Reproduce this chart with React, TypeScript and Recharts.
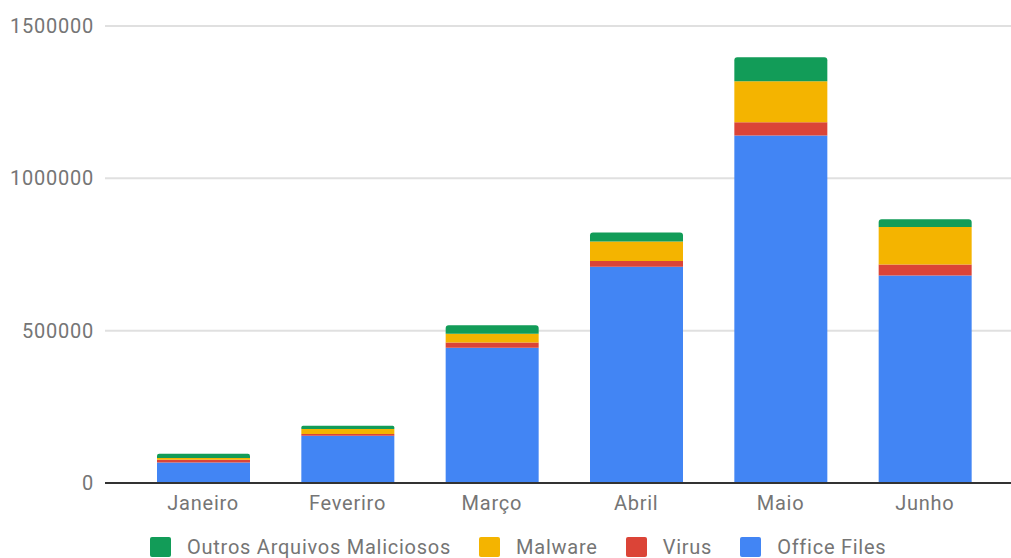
import { Bar, BarChart, CartesianGrid, Legend, XAxis, YAxis } from "recharts";

const months = ["Janeiro", "Feveriro", "Março", "Abril", "Maio", "Junho"];
const officeFiles = [67000, 155000, 444000, 710000, 1141000, 681000];
const virus = [9000, 6000, 17500, 18500, 43000, 36000];
const malware = [6000, 16000, 28500, 64500, 134500, 123500];
const outros = [14000, 11000, 27500, 29500, 79000, 25000];
const yTicks = [0, 500000, 1000000, 1500000];

const series = [
  { key: "outros", name: "Outros Arquivos Maliciosos", color: "#129c58" },
  { key: "malware", name: "Malware", color: "#f4b400" },
  { key: "virus", name: "Virus", color: "#db4437" },
  { key: "office", name: "Office Files", color: "#4285f4" },
];

const data = months.map((month, i) => ({
  month,
  office: officeFiles[i],
  virus: virus[i],
  malware: malware[i],
  outros: outros[i],
}));

const FONT = "Roboto, 'Noto Sans', sans-serif";
const GREY = "#757575";
const tickStyle = { fill: GREY, fontSize: 20, fontFamily: FONT, letterSpacing: 0.75 };

function LegendRow() {
  return (
    <div
      style={{
        display: "flex",
        alignItems: "center",
        fontFamily: FONT,
        fontSize: 20,
        lineHeight: "20px",
        letterSpacing: 0.75,
        color: GREY,
      }}
    >
      {series.map((s) => (
        <div key={s.key} style={{ display: "flex", alignItems: "center", marginRight: 28 }}>
          <span style={{ width: 21, height: 20, borderRadius: 2, background: s.color, marginRight: 16 }} />
          <span>{s.name}</span>
        </div>
      ))}
    </div>
  );
}

export default function App() {
  return (
    <div style={{ position: "fixed", left: 0, top: 0, width: 1011, height: 558, overflow: "hidden", background: "#fff" }}>
      <BarChart
        width={1023}
        height={558}
        data={data}
        margin={{ top: 26, right: 0, left: 0, bottom: 0 }}
      >
        <CartesianGrid vertical={false} stroke="#e0e0e0" strokeWidth={2} />
        <XAxis
          dataKey="month"
          height={75}
          padding={{ left: 26, right: 26 }}
          axisLine={{ stroke: "#333", strokeWidth: 2 }}
          tickLine={false}
          tick={tickStyle}
          dy={5}
        />
        <YAxis
          width={105}
          domain={[0, 1500000]}
          ticks={yTicks}
          interval={0}
          axisLine={false}
          tickLine={false}
          tick={tickStyle}
          dx={-3}
        />
        <Legend
          layout="horizontal"
          verticalAlign="middle"
          align="center"
          content={<LegendRow />}
          wrapperStyle={{ position: "absolute", left: 150, top: 537, width: 900, height: 20 }}
        />
        <Bar dataKey="office" name="Office Files" stackId="a" fill="#4285f4" barSize={93} isAnimationActive={false} />
        <Bar dataKey="virus" name="Virus" stackId="a" fill="#db4437" barSize={93} isAnimationActive={false} />
        <Bar dataKey="malware" name="Malware" stackId="a" fill="#f4b400" barSize={93} isAnimationActive={false} />
        <Bar
          dataKey="outros"
          name="Outros Arquivos Maliciosos"
          stackId="a"
          fill="#129c58"
          barSize={93}
          radius={[3, 3, 0, 0]}
          isAnimationActive={false}
        />
      </BarChart>
    </div>
  );
}
